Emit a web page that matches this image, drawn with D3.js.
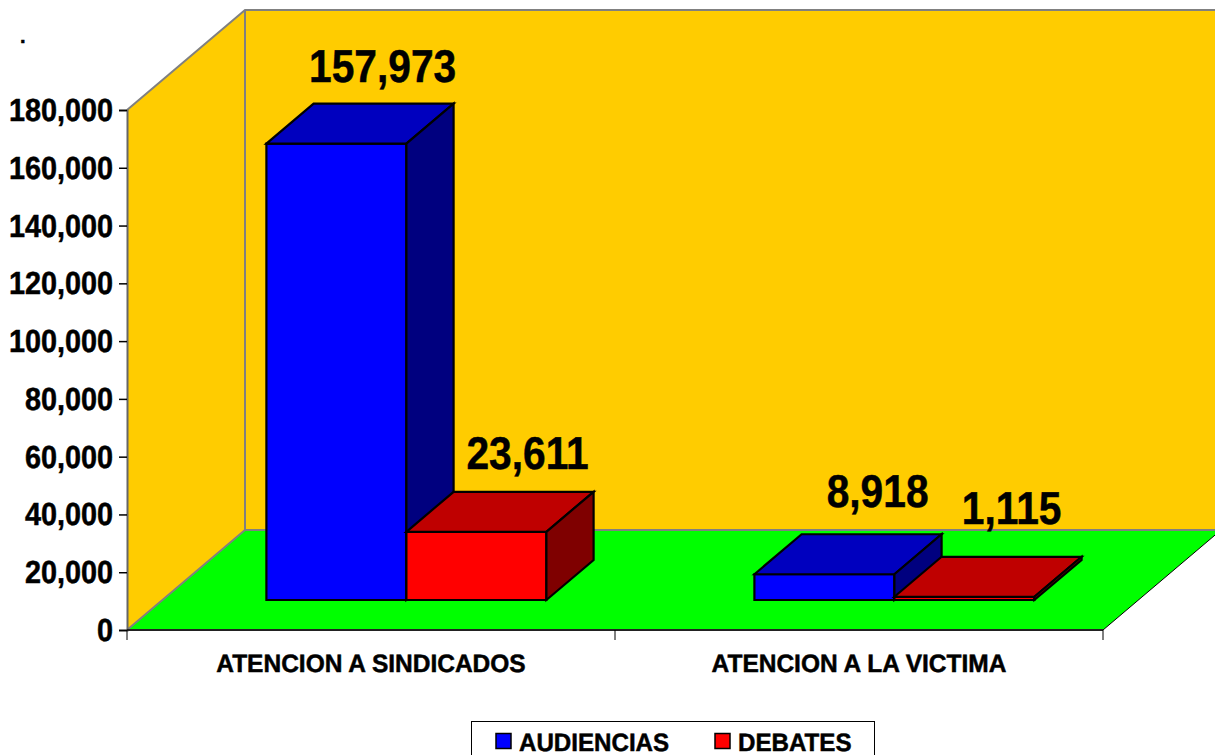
<!DOCTYPE html>
<html>
<head>
<meta charset="utf-8">
<script src="https://cdn.jsdelivr.net/npm/d3@7"></script>
<style>
  html, body { margin: 0; padding: 0; background: #fff; overflow: hidden; }
  svg { display: block; }
  text { font-family: "Liberation Sans", Arial, sans-serif; font-weight: bold; fill: #000; stroke: #000; stroke-width: 0.5px; text-rendering: geometricPrecision; }
</style>
</head>
<body>
<svg width="1215" height="755"></svg>
<script>
var categories = ["ATENCION A SINDICADOS", "ATENCION A LA VICTIMA"];
var seriesNames = ["AUDIENCIAS", "DEBATES"];
var audiencias = [157973, 8918];
var debates = [23611, 1115];
var yTicks = [0, 20000, 40000, 60000, 80000, 100000, 120000, 140000, 160000, 180000];

var seriesValues = [audiencias, debates];
var frontColors = ["#0000ff", "#ff0000"];
var topColors = ["#0000bf", "#bf0000"];
var sideColors = ["#00007f", "#7f0000"];

var svg = d3.select("svg");
var fmt = d3.format(",");

var x = d3.scaleBand().domain(categories).range([127, 1103]);
var y = d3.scaleLinear().domain([0, 180000]).range([630, 110]);
var inner = d3.scaleBand().domain(seriesNames).range([-140, 140]);

// 3d depth: 0 = front of the floor, 1 = back wall
var depthX = d3.scaleLinear().domain([0, 1]).range([0, 118]);
var depthY = d3.scaleLinear().domain([0, 1]).range([0, -100]);

function pt(px, value, depth) {
  return [px + depthX(depth), y(value) + depthY(depth)];
}
function poly(points) {
  return points.map(function(p) { return p.join(","); }).join(" ");
}

// scaled bold text, the original font is a bit narrower than Liberation
function label(sel, px, py, size, squeeze, anchor, str) {
  return sel.append("text")
      .attr("transform", "translate(" + px + "," + py + ") scale(" + squeeze + ",1)")
      .attr("text-anchor", anchor)
      .style("font-size", size + "px")
      .text(str);
}

var x0 = 127, x1 = 1103, yMax = 180000;

// walls
var walls = svg.append("g");
walls.append("polygon")
    .attr("points", poly([pt(x0, yMax, 0), pt(x0, yMax, 1), pt(x0, 0, 1), pt(x0, 0, 0)]))
    .attr("fill", "#ffcc00");
walls.append("polygon")
    .attr("points", poly([pt(x0, yMax, 1), pt(x1, yMax, 1), pt(x1, 0, 1), pt(x0, 0, 1)]))
    .attr("fill", "#ffcc00");
walls.append("polygon")
    .attr("points", poly([pt(x0, 0, 0), pt(x1, 0, 0), pt(x1, 0, 1), pt(x0, 0, 1)]))
    .attr("fill", "#00ff00");
walls.append("polyline")
    .attr("points", poly([pt(x0, yMax, 0), pt(x0, yMax, 1), pt(x1, yMax, 1)]))
    .attr("fill", "none").attr("stroke", "#808080").attr("stroke-width", 2);
walls.append("polyline")
    .attr("points", poly([pt(x0, yMax, 1), pt(x0, 0, 1), pt(x1, 0, 1)]))
    .attr("fill", "none").attr("stroke", "#808080").attr("stroke-width", 2);
walls.append("line")
    .attr("x1", pt(x0, 0, 0)[0]).attr("y1", pt(x0, 0, 0)[1])
    .attr("x2", pt(x0, 0, 1)[0]).attr("y2", pt(x0, 0, 1)[1])
    .attr("stroke", "#808080").attr("stroke-width", 2);
walls.append("line")
    .attr("x1", pt(x1, 0, 0)[0]).attr("y1", pt(x1, 0, 0)[1])
    .attr("x2", pt(x1, 0, 1)[0]).attr("y2", pt(x1, 0, 1)[1])
    .attr("stroke", "#000").attr("stroke-width", 1);

// y axis
var yAxis = svg.append("g")
    .attr("transform", "translate(" + x0 + ",0)")
    .call(d3.axisLeft(y).tickValues(yTicks).tickSize(8).tickFormat(""));
yAxis.select(".domain").attr("stroke", "#666").attr("stroke-width", 2);
yAxis.selectAll(".tick line").attr("stroke", "#000").attr("stroke-width", 1.5);
yTicks.forEach(function(t) {
  label(svg, 113, y(t) + 11, 32, 0.9, "end", fmt(t));
});

// x axis, ticks on the band edges
svg.append("line")
    .attr("x1", x0).attr("x2", x1).attr("y1", y(0)).attr("y2", y(0))
    .attr("stroke", "#222").attr("stroke-width", 2);
[x0].concat(categories.map(function(c) { return x(c) + x.bandwidth(); })).forEach(function(px) {
  svg.append("line")
      .attr("x1", px).attr("x2", px).attr("y1", y(0)).attr("y2", y(0) + 10)
      .attr("stroke", "#000").attr("stroke-width", 1);
});
categories.forEach(function(c) {
  label(svg, x(c) + x.bandwidth() / 2, 672, 25, 0.98, "middle", c);
});

// bars
var barFront = 0.3, barBack = 0.7;
var nudges = [[-1, 22], [4, 23], [6, 27], [0, 33]];
var bars = svg.append("g")
    .attr("stroke", "#000").attr("stroke-width", 2.2).attr("stroke-linejoin", "miter");
var labelLayer = svg.append("g");
var nudgeIdx = 0;

categories.forEach(function(c, ci) {
  seriesNames.forEach(function(s, si) {
    var v = seriesValues[si][ci];
    var l = x(c) + x.bandwidth() / 2 + inner(s);
    var r = l + inner.bandwidth();
    bars.append("polygon")
        .attr("points", poly([pt(l, v, barFront), pt(r, v, barFront), pt(r, 0, barFront), pt(l, 0, barFront)]))
        .attr("fill", frontColors[si]);
    bars.append("polygon")
        .attr("points", poly([pt(l, v, barFront), pt(l, v, barBack), pt(r, v, barBack), pt(r, v, barFront)]))
        .attr("fill", topColors[si]);
    bars.append("polygon")
        .attr("points", poly([pt(r, v, barFront), pt(r, v, barBack), pt(r, 0, barBack), pt(r, 0, barFront)]))
        .attr("fill", sideColors[si]);

    var back = pt((l + r) / 2, v, barBack);
    var n = nudges[nudgeIdx++];
    label(labelLayer, back[0] + n[0], back[1] - n[1], 46, 0.885, "middle", fmt(v));
  });
});

// legend, runs off the bottom of the picture like the original
var legend = svg.append("g");
legend.append("rect")
    .attr("x", 471.5).attr("y", 721.5).attr("width", 403).attr("height", 60)
    .attr("fill", "#fff").attr("stroke", "#000").attr("stroke-width", 1);
var legendX = d3.scalePoint().domain(seriesNames).range([496, 715]);
seriesNames.forEach(function(s, i) {
  legend.append("rect")
      .attr("x", legendX(s)).attr("y", 733.5).attr("width", 15).attr("height", 15)
      .attr("fill", frontColors[i]).attr("stroke", "#000").attr("stroke-width", 1.5);
  label(legend, legendX(s) + 23, 750.5, 25, 0.965, "start", s);
});

// stray dot in the top left corner
label(svg, 20, 43, 20, 1, "start", ".");
</script>
</body>
</html>
